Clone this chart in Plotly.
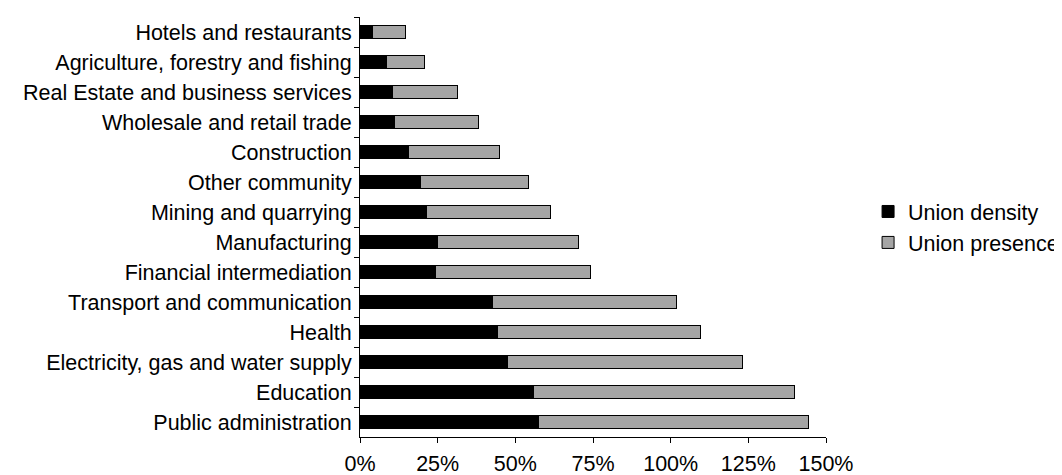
import plotly.graph_objects as go

sectors = [
    "Hotels and restaurants",
    "Agriculture, forestry and fishing",
    "Real Estate and business services",
    "Wholesale and retail trade",
    "Construction",
    "Other community",
    "Mining and quarrying",
    "Manufacturing",
    "Financial intermediation",
    "Transport and communication",
    "Health",
    "Electricity, gas and water supply",
    "Education",
    "Public administration",
]
union_density = [4.0, 8.4, 10.4, 11.0, 15.6, 19.4, 21.3, 25.0, 24.4, 42.5, 44.4, 47.6, 56.0, 57.3]
union_presence = [10.8, 12.2, 21.1, 27.0, 29.4, 34.7, 39.9, 45.2, 49.7, 59.3, 65.2, 75.5, 83.9, 87.1]

font = dict(family="Liberation Sans, Arial, sans-serif", size=21.5, color="black")

fig = go.Figure()
fig.add_trace(go.Bar(y=sectors, x=union_density, name="Union density", orientation="h",
                     marker=dict(color="black", line=dict(color="black", width=1))))
fig.add_trace(go.Bar(y=sectors, x=union_presence, name="Union presence", orientation="h",
                     marker=dict(color="#a5a5a5", line=dict(color="black", width=1))))

# page body has an 8px margin, so the figure is sized to the remaining viewport
fig.update_layout(
    barmode="stack",
    bargap=0.56,
    width=1054, height=467,
    margin=dict(l=352, r=236, t=9, b=38),
    plot_bgcolor="white", paper_bgcolor="white",
    font=font,
    showlegend=True,
    # container ref so the legend (cut at the right edge) doesn't push the margin
    legend=dict(xref="container", x=0.816, y=0.5, xanchor="left", yanchor="middle",
                traceorder="normal", itemwidth=30, tracegroupgap=0),
)
fig.update_xaxes(range=[0, 150], dtick=25, tickformat=".0f", ticksuffix="%",
                 showline=True, linecolor="black", linewidth=1, ticks="outside",
                 ticklen=5, tickcolor="black", showgrid=False, zeroline=False,
                 ticklabelstandoff=2, automargin=False)
fig.update_yaxes(categoryorder="array", categoryarray=sectors,
                 autorange="reversed",
                 showline=True, linecolor="black", linewidth=1, ticks="outside",
                 tickson="boundaries", ticklen=5, tickcolor="black", showgrid=False,
                 ticklabelstandoff=3, automargin=False)

fig.write_html("out.html")
